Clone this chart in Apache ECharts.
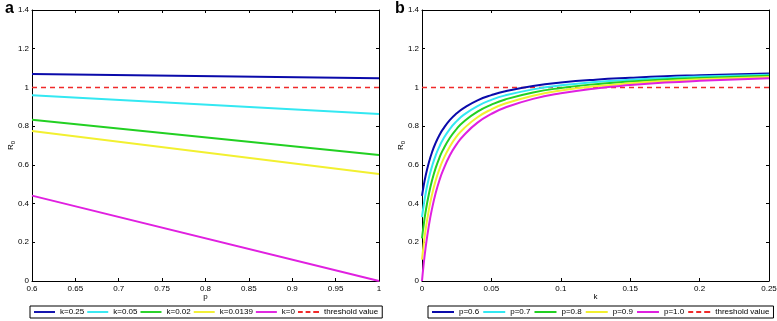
<!DOCTYPE html>
<html>
<head>
<meta charset="utf-8">
<script src="https://cdn.jsdelivr.net/npm/echarts@6/dist/echarts.min.js"></script>
<style>html,body{margin:0;padding:0;background:#fff}#c{width:777px;height:321px}</style>
</head>
<body>
<div id="c"></div>
<script>
// ---- Panel a: R0 vs p ----
const pValues = [0.6, 1.0];
const aK025 = [1.070, 1.048];
const aK005 = [0.959, 0.863];
const aK002 = [0.833, 0.651];
const aK00139 = [0.775, 0.553];
const aK0 = [0.441, 0.0];
const aNames = ['k=0.25', 'k=0.05', 'k=0.02', 'k=0.0139', 'k=0'];

// ---- Panel b: R0 vs k ----
const kValues = [0, 0.001, 0.0025, 0.005, 0.0075, 0.01, 0.0125, 0.015, 0.02, 0.025, 0.03, 0.04, 0.05, 0.06, 0.08, 0.1, 0.125, 0.15, 0.175, 0.2, 0.25];
const bP06 = [0.440, 0.484, 0.540, 0.614, 0.671, 0.716, 0.753, 0.783, 0.831, 0.866, 0.893, 0.933, 0.960, 0.980, 1.007, 1.025, 1.040, 1.050, 1.058, 1.063, 1.072];
const bP07 = [0.330, 0.381, 0.447, 0.533, 0.599, 0.652, 0.694, 0.730, 0.785, 0.826, 0.858, 0.904, 0.936, 0.959, 0.990, 1.011, 1.028, 1.040, 1.049, 1.056, 1.066];
const bP08 = [0.220, 0.278, 0.353, 0.451, 0.527, 0.587, 0.636, 0.676, 0.739, 0.786, 0.823, 0.875, 0.911, 0.938, 0.974, 0.997, 1.017, 1.031, 1.041, 1.049, 1.060];
const bP09 = [0.110, 0.176, 0.260, 0.370, 0.455, 0.523, 0.577, 0.623, 0.694, 0.747, 0.787, 0.846, 0.887, 0.917, 0.957, 0.984, 1.006, 1.021, 1.033, 1.042, 1.054];
const bP10 = [0.000, 0.073, 0.166, 0.289, 0.383, 0.458, 0.519, 0.569, 0.648, 0.707, 0.752, 0.818, 0.863, 0.896, 0.941, 0.970, 0.995, 1.012, 1.025, 1.034, 1.048];
const bNames = ['p=0.6', 'p=0.7', 'p=0.8', 'p=0.9', 'p=1.0'];

const threshold = 1;
const thresholdName = 'threshold value';
const yTicks = {min: 0, max: 1.4, interval: 0.2};

const colors = ['#0a0aaa', '#33e8f2', '#22d022', '#f2f030', '#e020e0'];
const redDash = '#f02a2a';
const FONT = 'Liberation Sans, Arial, sans-serif';

function pair(xs, ys) { return xs.map((x, i) => [x, ys[i]]); }

const chart = echarts.init(document.getElementById('c'), null, {renderer: 'canvas'});

const grids = [
  {left: 32, top: 10, width: 347, height: 271, outerBoundsMode: 'none'},
  {left: 422, top: 10, width: 347, height: 271, outerBoundsMode: 'none'}
];

function xAx(gi, min, max, interval, name, pos) {
  const bottom = pos === 'bottom';
  return {
    type: 'value', gridIndex: gi, min, max, interval, position: pos,
    name: bottom ? name : '', nameLocation: 'middle', nameGap: 12, nameMoveOverlap: false,
    nameTextStyle: {fontFamily: FONT, fontSize: 8, color: '#000'},
    axisLine: {show: true, onZero: false, lineStyle: {color: '#000', width: 1}},
    axisTick: {show: true, inside: true, length: 3, lineStyle: {color: '#000'}},
    axisLabel: {show: bottom, fontFamily: FONT, fontSize: 8, color: '#000', margin: 4},
    splitLine: {show: false}
  };
}
function yAx(gi, pos) {
  const left = pos === 'left';
  return {
    type: 'value', gridIndex: gi, min: yTicks.min, max: yTicks.max, interval: yTicks.interval, position: pos,
    name: left ? '{r|R}{s|0}' : '', nameLocation: 'middle', nameGap: 16, nameRotate: 90, nameMoveOverlap: false,
    nameTextStyle: {fontFamily: FONT, fontSize: 8, color: '#000',
      rich: {r: {fontFamily: FONT, fontSize: 8, color: '#000'}, s: {fontFamily: FONT, fontSize: 6, color: '#000', padding: [5, 0, 0, 0]}}},
    axisLine: {show: true, onZero: false, lineStyle: {color: '#000', width: 1}},
    axisTick: {show: true, inside: true, length: 3, lineStyle: {color: '#000'}},
    axisLabel: {show: left, fontFamily: FONT, fontSize: 8, color: '#000', margin: 3},
    splitLine: {show: false}
  };
}

const aData = [aK025, aK005, aK002, aK00139, aK0];
const bData = [bP06, bP07, bP08, bP09, bP10];

const series = [];
aData.forEach((ys, i) => series.push({
  type: 'line', name: aNames[i], xAxisIndex: 0, yAxisIndex: 0, data: pair(pValues, ys),
  showSymbol: false, symbol: 'none', smooth: false, lineStyle: {color: colors[i], width: 2}, itemStyle: {color: colors[i]}, z: 3, silent: true
}));
series.push({
  type: 'line', name: thresholdName, xAxisIndex: 0, yAxisIndex: 0,
  data: pair([pValues[0], pValues[pValues.length - 1]], [threshold, threshold]),
  showSymbol: false, symbol: 'none', lineStyle: {color: redDash, width: 1.6, type: [5, 4], opacity: 1}, itemStyle: {color: redDash}, z: 4, silent: true
});
bData.forEach((ys, i) => series.push({
  type: 'line', name: bNames[i], xAxisIndex: 2, yAxisIndex: 2, data: pair(kValues, ys),
  showSymbol: false, symbol: 'none', smooth: true, lineStyle: {color: colors[i], width: 2}, itemStyle: {color: colors[i]}, z: 3, silent: true
}));
series.push({
  type: 'line', name: thresholdName, xAxisIndex: 2, yAxisIndex: 2,
  data: pair([kValues[0], kValues[kValues.length - 1]], [threshold, threshold]),
  showSymbol: false, symbol: 'none', lineStyle: {color: redDash, width: 1.6, type: [5, 4], opacity: 1}, itemStyle: {color: redDash}, z: 2, silent: true
});

const solidIcon = 'path://M0,0h22v2h-22z';
const dashIcon = 'path://M0,0h5v2h-5z M8,0h5v2h-5z M16,0h6v2h-6z';

function legend(left, names, itemWidth, itemGap) {
  return {
    left, top: 306, orient: 'horizontal',
    data: names.map(n => ({name: n, icon: solidIcon})).concat([{name: thresholdName, icon: dashIcon}]),
    itemWidth, itemHeight: 2, itemGap, padding: [2, 4, 2, 4],
    borderColor: '#000', borderWidth: 1, selectedMode: false,
    textStyle: {fontFamily: FONT, fontSize: 8, color: '#000'}
  };
}

chart.setOption({
  animation: false,
  backgroundColor: '#fff',
  title: [
    {text: 'a', left: 0, top: -4, textStyle: {fontFamily: FONT, fontSize: 16, fontWeight: 'bold', color: '#000'}},
    {text: 'b', left: 390, top: -4, textStyle: {fontFamily: FONT, fontSize: 16, fontWeight: 'bold', color: '#000'}}
  ],
  grid: grids,
  xAxis: [
    xAx(0, 0.6, 1.0, 0.05, 'p', 'bottom'), xAx(0, 0.6, 1.0, 0.05, '', 'top'),
    xAx(1, 0, 0.25, 0.05, 'k', 'bottom'), xAx(1, 0, 0.25, 0.05, '', 'top')
  ],
  yAxis: [yAx(0, 'left'), yAx(0, 'right'), yAx(1, 'left'), yAx(1, 'right')],
  legend: [legend(30, aNames, 21, 3), legend(428, bNames, 22, 4)],
  series
});
</script>
</body>
</html>
